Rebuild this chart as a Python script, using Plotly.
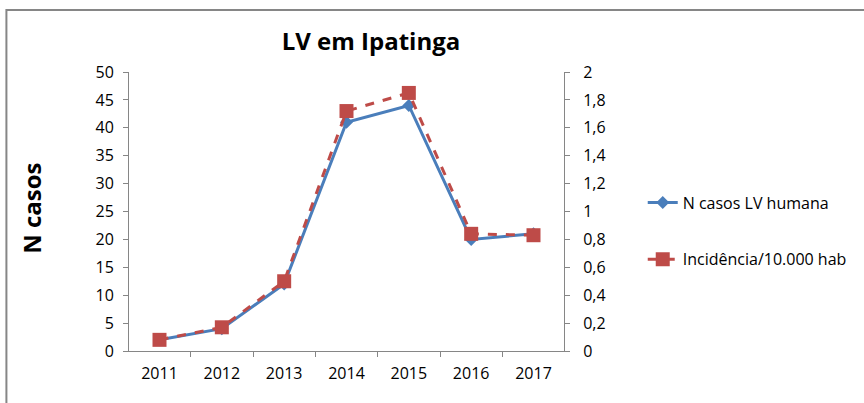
import plotly.graph_objects as go

anos = ["2011", "2012", "2013", "2014", "2015", "2016", "2017"]
n_casos = [2, 4, 12, 41, 44, 20, 21]
incidencia = [0.08, 0.17, 0.50, 1.72, 1.85, 0.84, 0.83]

esq_ticks = [0, 5, 10, 15, 20, 25, 30, 35, 40, 45, 50]
dir_ticks = [0, 0.2, 0.4, 0.6, 0.8, 1, 1.2, 1.4, 1.6, 1.8, 2]
dir_labels = ["0", "0,2", "0,4", "0,6", "0,8", "1", "1,2", "1,4", "1,6", "1,8", "2"]

fonte = "Open Sans, Arial"

fig = go.Figure()
fig.add_trace(go.Scatter(
    x=anos, y=n_casos, name="N casos LV humana", legendgroup="a",
    mode="lines+markers",
    line=dict(color="#4A7EBB", width=3),
    marker=dict(symbol="diamond", size=10, color="#4A7EBB"),
))
fig.add_trace(go.Scatter(
    x=anos, y=incidencia, name="Incidência/10.000 hab", legendgroup="b",
    mode="lines+markers", yaxis="y2",
    line=dict(color="#BE4B48", width=3, dash="dash"),
    marker=dict(symbol="square", size=14, color="#BE4B48"),
))

eixo = dict(showline=True, linecolor="#868686", linewidth=1, ticks="outside",
            tickcolor="#868686", ticklen=5, showgrid=False, zeroline=False,
            tickfont=dict(size=16, color="black", family=fonte))

fig.update_layout(
    width=864, height=403,
    margin=dict(l=129, r=295, t=72, b=52),
    paper_bgcolor="white", plot_bgcolor="white",
    font=dict(family=fonte, color="black"),
    title=dict(text="<b>LV em Ipatinga</b>", x=371 / 864, xanchor="center",
               y=1 - 42 / 403, yanchor="middle", font=dict(size=24)),
    xaxis=dict(eixo, tickson="boundaries", type="category", ticklabelstandoff=8),
    yaxis=dict(eixo, range=[0, 50], tickvals=esq_ticks, ticklabelstandoff=6),
    yaxis2=dict(eixo, range=[0, 2], tickvals=dir_ticks, ticktext=dir_labels,
                overlaying="y", side="right", ticklabelstandoff=10),
    legend=dict(x=1.181, y=0.43, xanchor="left", yanchor="middle",
                font=dict(size=16), tracegroupgap=33, bgcolor="rgba(0,0,0,0)"),
    annotations=[dict(text="<b>N casos</b>", textangle=-90, showarrow=False,
                      xref="paper", yref="paper", x=(31 - 129) / 440, y=0.51,
                      xanchor="center", yanchor="middle", font=dict(size=24))],
    shapes=[dict(type="rect", xref="paper", yref="paper",
                 x0=(5 - 129) / 440, x1=(900 - 129) / 440,
                 y0=(351 - 420) / 279, y1=(351 - 10) / 279,
                 line=dict(color="#868686", width=2))],
)

fig.write_html("out.html", config={"displayModeBar": False},
               post_script="document.body.style.margin='0';")
